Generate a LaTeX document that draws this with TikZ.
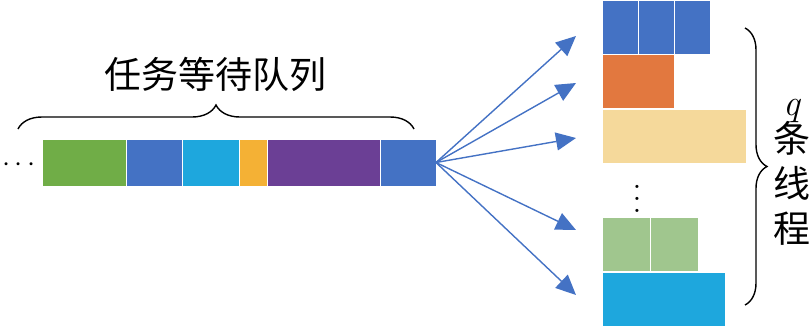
\documentclass[tikz,border=0pt]{standalone}
\usepackage{fontspec}
\newfontfamily\cjk{Noto Sans CJK SC}
\usepackage{xcolor}
\definecolor{qgreen}{HTML}{70AD47}
\definecolor{qblue}{HTML}{4472C4}
\definecolor{qcyan}{HTML}{1EA7DD}
\definecolor{qgold}{HTML}{F4B135}
\definecolor{qpurple}{HTML}{6B3F95}
\definecolor{qorange}{HTML}{E2783F}
\definecolor{qsand}{HTML}{F5D99B}
\definecolor{qmint}{HTML}{A0C68E}
\usetikzlibrary{arrows.meta,positioning,decorations.pathreplacing}

\begin{document}
\begin{tikzpicture}[
  x=1pt,y=-1pt,
  cell/.style={rectangle,draw=white,line width=1pt,minimum height=47pt,inner sep=0pt,outer sep=0pt},
  slot/.style={rectangle,draw=white,line width=0.6pt,minimum height=54pt,inner sep=0pt,outer sep=0pt},
  arr/.style={-{Triangle[length=20pt,width=18pt]},draw=qblue,line width=1.4pt},
  brc/.style={decorate,decoration={brace,amplitude=#1},line width=1.4pt},
  lbl/.style={font=\cjk\fontsize{37}{45}\selectfont}
]
\useasboundingbox (0,0) rectangle (812,327);

% waiting queue
\node[cell,fill=qgreen,minimum width=84pt,anchor=west] (q1) at (42,162.5) {};
\node[cell,fill=qblue,minimum width=56pt,right=0pt of q1] (q2) {};
\node[cell,fill=qcyan,minimum width=57pt,right=0pt of q2] (q3) {};
\node[cell,fill=qgold,minimum width=28pt,right=0pt of q3] (q4) {};
\node[cell,fill=qpurple,minimum width=113pt,right=0pt of q4] (q5) {};
\node[cell,fill=qblue,minimum width=56pt,right=0pt of q5] (q6) {};
\node[scale=2.9] (hdots) at (19,165) {$\cdots$};

\draw[brc=24] (18,129) -- (414,129);
\node[lbl] (qname) at (215,74) {任务等待队列};

% threads
\node[slot,fill=qblue,minimum width=36pt,anchor=west] (t1a) at (602,27) {};
\node[slot,fill=qblue,minimum width=36pt,right=0pt of t1a] (t1b) {};
\node[slot,fill=qblue,minimum width=36pt,right=0pt of t1b] (t1c) {};
\node[slot,fill=qorange,minimum width=72pt,anchor=west] (t2) at (602,81) {};
\node[slot,fill=qsand,minimum width=144pt,anchor=west] (t3) at (602,136) {};
\node[scale=3] (vdots) at (637,190) {$\vdots$};
\node[slot,fill=qmint,minimum width=48pt,anchor=west] (t4a) at (602,244) {};
\node[slot,fill=qmint,minimum width=48pt,right=0pt of t4a] (t4b) {};
\node[slot,fill=qcyan,minimum width=123pt,anchor=west] (t5) at (602,299) {};

\draw[brc=22] (745,28) -- (745,305);
\node[lbl,align=center] (tname) at (792,172) {{\rmfamily\itshape q}\\[-8pt]条\\线\\程};

% dispatch
\coordinate (e1) at (576,36);
\coordinate (e2) at (576,83);
\coordinate (e3) at (576,138);
\coordinate (e4) at (576,230);
\coordinate (e5) at (576,295);
\foreach \e in {e1,e2,e3,e4,e5}
  \draw[arr] (q6.east) -- (\e);
\end{tikzpicture}
\end{document}
